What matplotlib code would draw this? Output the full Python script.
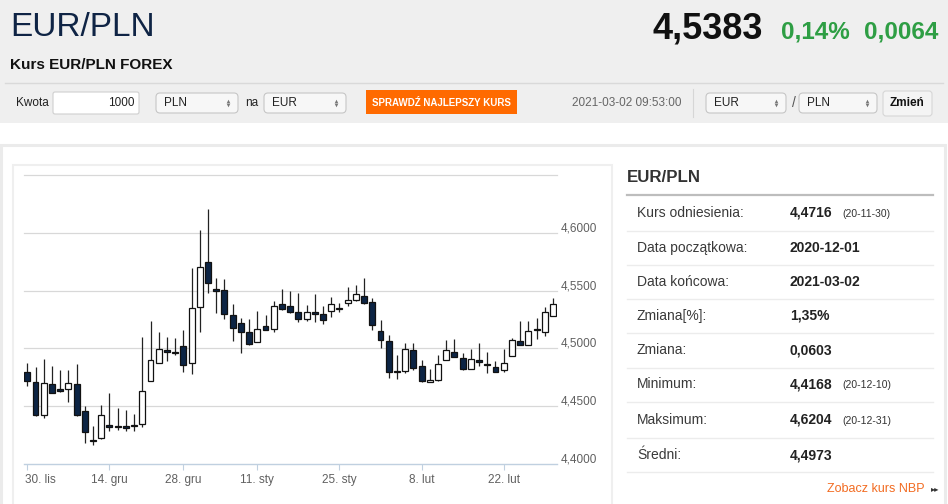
import matplotlib
matplotlib.use("Agg")
import matplotlib.pyplot as plt
import matplotlib.transforms as mtransforms
from matplotlib.patches import Rectangle, FancyBboxPatch
import numpy as np
import pandas as pd

plt.rcParams['font.family'] = ['Liberation Sans', 'DejaVu Sans']

# --- data: daily EUR/PLN candles (trading days, no 25.12 / 1.01) ---
dates = pd.bdate_range("2020-11-30", "2021-03-02")
dates = dates.drop([pd.Timestamp("2020-12-25"), pd.Timestamp("2021-01-01")])

opens = [4.4797, 4.4713, 4.4426, 4.4696, 4.4652, 4.4652, 4.4696, 4.4458, 4.4206, 4.4221,
         4.4334, 4.4332, 4.4325, 4.4328, 4.4343, 4.4722, 4.4873, 4.4983, 4.4960, 4.5017,
         4.4878, 4.5357, 4.5748, 4.5517, 4.5502, 4.5287, 4.5221, 4.5143, 4.5058, 4.5195,
         4.5169, 4.5383, 4.5365, 4.5313, 4.5252, 4.5313, 4.5296, 4.5322, 4.5339, 4.5391,
         4.5415, 4.5456, 4.5400, 4.5151, 4.5067, 4.4803, 4.4806, 4.4983, 4.4847, 4.4708,
         4.4728, 4.4902, 4.4969, 4.4913, 4.4826, 4.4899, 4.4867, 4.4841, 4.4815, 4.4937,
         4.5067, 4.5030, 4.5171, 4.5139, 4.5284]
highs = [4.4876, 4.4835, 4.4908, 4.4850, 4.4809, 4.4815, 4.4867, 4.4502, 4.4330, 4.4510,
         4.4612, 4.4484, 4.4470, 4.4435, 4.5099, 4.5241, 4.5139, 4.5102, 4.5093, 4.5157,
         4.5693, 4.6026, 4.6204, 4.5612, 4.5603, 4.5386, 4.5267, 4.5258, 4.5325, 4.5293,
         4.5406, 4.5510, 4.5496, 4.5476, 4.5377, 4.5467, 4.5365, 4.5447, 4.5389, 4.5534,
         4.5548, 4.5612, 4.5432, 4.5247, 4.5117, 4.4939, 4.5047, 4.5047, 4.4896, 4.4823,
         4.4943, 4.5070, 4.5082, 4.4960, 4.4995, 4.5047, 4.4965, 4.4890, 4.4995, 4.5087,
         4.5241, 4.5241, 4.5267, 4.5360, 4.5435]
lows = [4.4678, 4.4415, 4.4397, 4.4612, 4.4621, 4.4539, 4.4415, 4.4178, 4.4168, 4.4219,
        4.4287, 4.4296, 4.4282, 4.4282, 4.4322, 4.4720, 4.4871, 4.4893, 4.4945, 4.4800,
        4.4780, 4.5143, 4.5482, 4.5308, 4.5256, 4.5064, 4.4957, 4.5033, 4.5056, 4.5158,
        4.5139, 4.5335, 4.5308, 4.5226, 4.5235, 4.5230, 4.5209, 4.5273, 4.5319, 4.5365,
        4.5413, 4.5380, 4.5157, 4.5003, 4.4743, 4.4737, 4.4791, 4.4815, 4.4709, 4.4706,
        4.4722, 4.4900, 4.4923, 4.4809, 4.4824, 4.4850, 4.4786, 4.4795, 4.4800, 4.4935,
        4.5030, 4.5028, 4.5084, 4.5104, 4.5282]
closes = [4.4716, 4.4423, 4.4704, 4.4617, 4.4630, 4.4704, 4.4426, 4.4273, 4.4195, 4.4423,
          4.4322, 4.4322, 4.4313, 4.4337, 4.4635, 4.4899, 4.4991, 4.4965, 4.4971, 4.4856,
          4.5348, 4.5702, 4.5569, 4.5499, 4.5299, 4.5177, 4.5145, 4.5035, 4.5169, 4.5160,
          4.5371, 4.5337, 4.5319, 4.5252, 4.5317, 4.5299, 4.5243, 4.5383, 4.5348, 4.5417,
          4.5470, 4.5389, 4.5203, 4.5070, 4.4800, 4.4793, 4.4995, 4.4830, 4.4717, 4.4728,
          4.4864, 4.4982, 4.4925, 4.4821, 4.4908, 4.4884, 4.4856, 4.4795, 4.4873, 4.5070,
          4.5030, 4.5154, 4.5160, 4.5319, 4.5383]

tick_dates = ["2020-11-30", "2020-12-14", "2020-12-28", "2021-01-11",
              "2021-01-25", "2021-02-08", "2021-02-22"]
months_pl = {11: "lis", 12: "gru", 1: "sty", 2: "lut"}
y_ticks = [4.40, 4.45, 4.50, 4.55, 4.60]
grid_levels = [4.45, 4.50, 4.55, 4.60, 4.65]

info_labels = ["Kurs odniesienia:", "Data początkowa:", "Data końcowa:", "Zmiana[%]:",
               "Zmiana:", "Minimum:", "Maksimum:", "Średni:"]
info_values = ["4,4716", "2020-12-01", "2021-03-02", "1,35%",
               "0,0603", "4,4168", "4,6204", "4,4973"]
info_dates = ["(20-11-30)", "", "", "", "", "(20-12-10)", "(20-12-31)", ""]

W, H = 948, 504
fig = plt.figure(figsize=(W / 100, H / 100), dpi=100)

# page background drawn in pixel coords
bg = fig.add_axes([0, 0, 1, 1])
bg.set_xlim(0, W)
bg.set_ylim(H, 0)
bg.axis('off')

def rbox(x0, y0, x1, y1, fc, ec='none', lw=0.8, r=0):
    if r:
        p = FancyBboxPatch((x0, y0), x1 - x0, y1 - y0,
                           boxstyle=f"round,pad=0,rounding_size={r}",
                           fc=fc, ec=ec, lw=lw)
    else:
        p = Rectangle((x0, y0), x1 - x0, y1 - y0, fc=fc, ec=ec, lw=lw)
    bg.add_patch(p)

rbox(0, 0, W, 123, '#efefef')
rbox(1, 144.5, 945, 520, 'white', ec='#ebebeb', lw=2.2)
rbox(13, 165, 612, 520, 'white', ec='#efefef', lw=1.5)

# header
bg.text(10, 28, "EUR/PLN", fontsize=24, color='#0f2445', va='center')
bg.text(763, 29, "4,5383", fontsize=26, weight='bold', color='#111111', ha='right', va='center')
bg.text(781, 32, "0,14%", fontsize=17.5, weight='bold', color='#2e9e44', va='center')
bg.text(864, 32, "0,0064", fontsize=17.5, weight='bold', color='#2e9e44', va='center')
bg.text(10, 65, "Kurs EUR/PLN FOREX", fontsize=11, weight='bold', color='#111111', va='center')
bg.plot([5, 943], [82.5, 82.5], color='#d9d9d9', lw=1)

# controls row
bg.text(16, 103, "Kwota", fontsize=8.5, color='#222222', va='center')
rbox(53, 92, 139, 114, 'white', ec='#cfcfcf', r=2)
bg.text(135, 103, "1000", fontsize=8.5, color='#222222', ha='right', va='center')

def select(x0, x1, label):
    rbox(x0, 93, x1, 113, '#f7f7f7', ec='#c6c6c6', r=4)
    bg.text(x0 + 8, 102.5, label, fontsize=8.5, color='#222222', va='center')
    bg.plot([x1 - 10], [100.5], marker='^', ms=2.6, color='#777777', mew=0)
    bg.plot([x1 - 10], [105], marker='v', ms=2.6, color='#777777', mew=0)

select(156, 238, "PLN")
bg.text(245, 103, "na", fontsize=8.5, color='#222222', va='center')
select(264, 346, "EUR")
rbox(366, 90, 517, 114, '#ff6a00')
bg.text(441.5, 102.5, "SPRAWDŹ NAJLEPSZY KURS", fontsize=7, weight='bold',
        color='white', ha='center', va='center')
bg.text(682, 103, "2021-03-02 09:53:00", fontsize=8.5, color='#666666', ha='right', va='center')
bg.plot([693, 693], [89, 117], color='#d6d6d6', lw=0.8)
select(706, 786, "EUR")
bg.text(792, 103, "/", fontsize=10, color='#555555', va='center')
select(799, 877, "PLN")
rbox(883, 91, 932, 116, '#f4f4f4', ec='#d6d6d6', r=3)
bg.text(907.5, 103.5, "Zmień", fontsize=8.5, weight='bold', color='#111111', ha='center', va='center')

# info panel
bg.text(627, 178, "EUR/PLN", fontsize=12.2, weight='bold', color='#333333', va='center')
bg.plot([627, 933], [195, 195], color='#bdbdbd', lw=1.6)
row_y = [212.7, 248, 282.5, 316, 350.5, 384.5, 419.5, 455]
dividers = [230.7, 265.3, 299.3, 333.3, 367.7, 402.3, 438.3, 472.3]
for lab, val, dt, yy in zip(info_labels, info_values, info_dates, row_y):
    bg.text(637, yy, lab, fontsize=10, color='#3a3a3a', va='center')
    bg.text(790, yy, val, fontsize=10, weight='bold', color='#222222', va='center')
    if dt:
        bg.text(842, yy + 1, dt, fontsize=7.5, color='#333333', va='center')
for yy in dividers:
    bg.plot([627, 933], [yy, yy], color='#ececec', lw=1)
bg.text(827, 489.5, "Zobacz kurs NBP", fontsize=9, color='#f26b21', va='center')
bg.text(931, 490, "▸▸", fontsize=6, color='#333333', va='center')

# --- candlestick chart ---
ax = fig.add_axes([24 / W, (H - 464) / H, 533 / W, 289 / H])
ax.patch.set_alpha(0)

x = np.arange(len(dates))
o, hi, lo, c = map(np.array, (opens, highs, lows, closes))
up = c >= o
body_lo = np.minimum(o, c)
body_h = np.maximum(np.abs(c - o), 0.0011)

for g in grid_levels:
    ax.axhline(g, color='#d8d8d8', lw=0.9, zorder=1, clip_on=False)

ax.vlines(x, lo, hi, color='#222222', lw=0.9, zorder=2)
ax.bar(x[up], body_h[up], bottom=body_lo[up], width=0.72, color='white',
       edgecolor='#111111', linewidth=0.9, zorder=3)
ax.bar(x[~up], body_h[~up], bottom=body_lo[~up], width=0.72, color='#0c2444',
       edgecolor='#111111', linewidth=0.9, zorder=3)

step = 8.214
ax.set_xlim(-(27.3 - 24) / step, (557 - 27.3) / step)
ax.set_ylim(4.40, 4.65)

for s in ['top', 'left', 'right']:
    ax.spines[s].set_visible(False)
ax.spines['bottom'].set_color('#c0d0e0')
ax.spines['bottom'].set_linewidth(1)

tick_idx = [dates.get_loc(pd.Timestamp(d)) for d in tick_dates]
tick_lab = [f"{pd.Timestamp(d).day}. {months_pl[pd.Timestamp(d).month]}" for d in tick_dates]
ax.set_xticks(tick_idx)
ax.set_xticklabels(tick_lab)
ax.tick_params(axis='x', length=4.5, width=0.8, color='#c0d0e0', pad=3,
               labelsize=8.5, labelcolor='#606060')
first = ax.get_xticklabels()[0]
first.set_ha('left')
first.set_transform(first.get_transform() +
                    mtransforms.ScaledTranslation(-0.02, 0, fig.dpi_scale_trans))

ax.yaxis.tick_right()
ax.set_yticks(y_ticks)
ax.set_yticklabels([f"{v:.4f}".replace('.', ',') for v in y_ticks])
ax.tick_params(axis='y', length=0, pad=3, labelsize=8.5, labelcolor='#606060')
shift = mtransforms.ScaledTranslation(0, 0.06, fig.dpi_scale_trans)
for lbl in ax.get_yticklabels():
    lbl.set_transform(lbl.get_transform() + shift)

fig.savefig("out.png", dpi=100)
